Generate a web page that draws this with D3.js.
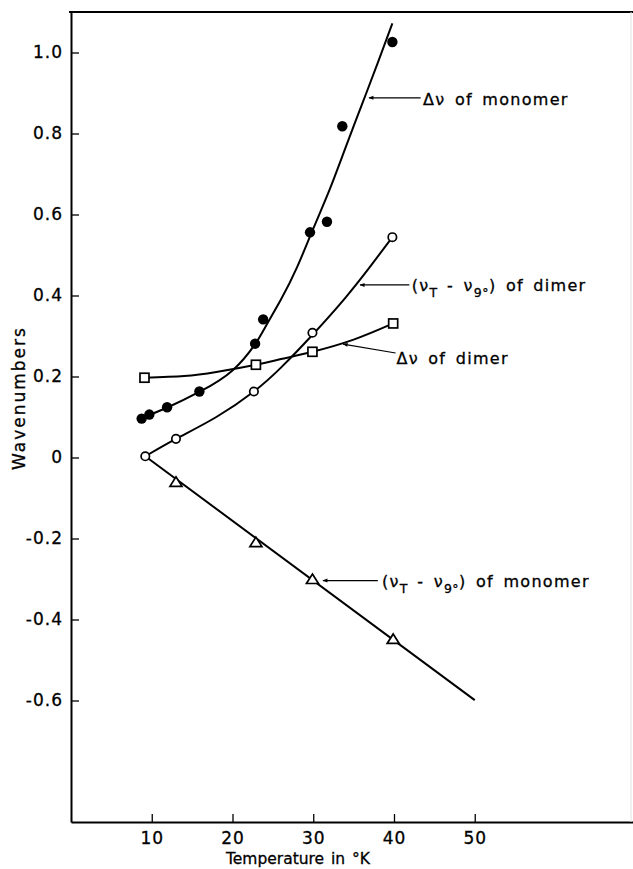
<!DOCTYPE html>
<html>
<head>
<meta charset="utf-8">
<script src="https://cdn.jsdelivr.net/npm/d3@7"></script>
<style>
    body { margin: 0; background: #fff; }
    svg { display: block; font-family: "DejaVu Sans", sans-serif; }
</style>
</head>
<body>
<svg id="canvas" width="633" height="869"></svg>
<script>
// measured points: temperature in K, value in wavenumbers
const monoShiftTemp = [8.75, 9.7, 11.9, 15.9, 22.8, 23.8, 29.6, 31.7, 33.6, 39.8];
const monoShift = [0.096, 0.106, 0.124, 0.163, 0.281, 0.341, 0.556, 0.582, 0.818, 1.026];
const dimerPosTemp = [9.2, 13, 22.65, 29.9, 39.8];
const dimerPos = [0.003, 0.046, 0.163, 0.308, 0.544];
const dimerShiftTemp = [9.1, 22.9, 29.9, 39.9];
const dimerShift = [0.197, 0.229, 0.261, 0.331];
const monoPosTemp = [13, 22.9, 29.9, 39.9];
const monoPos = [-0.06, -0.209, -0.3, -0.448];

// the hand drawn curves through those points
const monoShiftFitTemp = [8.3, 12, 16, 20, 22.8, 24, 26, 28, 30, 32, 34, 36, 38, 39.8];
const monoShiftFit = [0.094, 0.124, 0.163, 0.215, 0.28, 0.32, 0.39, 0.47, 0.565, 0.66, 0.765, 0.87, 0.975, 1.072];
const dimerPosFitTemp = [9.2, 13, 18, 22.65, 26, 30, 34, 37, 39.8];
const dimerPosFit = [0.003, 0.046, 0.1, 0.163, 0.222, 0.305, 0.395, 0.47, 0.544];
const dimerShiftFitTemp = [9.1, 14, 18, 22.9, 26, 29.9, 35, 39.9];
const dimerShiftFit = [0.197, 0.201, 0.211, 0.229, 0.243, 0.261, 0.291, 0.331];
const monoPosFitTemp = [9.2, 50];
const monoPosFit = [0.003, -0.599];

const xTicks = [10, 20, 30, 40, 50];
const xTickLabels = ["10", "20", "30", "40", "50"];
const yTicks = [1.0, 0.8, 0.6, 0.4, 0.2, 0, -0.2, -0.4, -0.6];
const yTickLabels = ["1.0", "0.8", "0.6", "0.4", "0.2", "0", "-0.2", "-0.4", "-0.6"];

const canvas = d3.select("#canvas");

const x = d3.scaleLinear().domain([0, 69.6]).range([71, 633]);
const y = d3.scaleLinear().domain([-0.9, 1.1]).range([822, 12]);

const zip = (xs, ys) => xs.map((t, i) => [t, ys[i]]);

// arrow head
canvas
    .append("defs")
    .append("marker")
    .attr("id", "head")
    .attr("viewBox", "0 0 10 10")
    .attr("refX", 9)
    .attr("refY", 5)
    .attr("markerWidth", 7)
    .attr("markerHeight", 5)
    .attr("markerUnits", "userSpaceOnUse")
    .attr("orient", "auto")
    .append("path")
    .attr("d", "M0,1 L10,5 L0,9 Z")
    .attr("fill", "#000");

// axes
const yAxis = d3
    .axisLeft(y)
    .tickValues(yTicks)
    .tickFormat((d, i) => yTickLabels[i])
    .tickSizeInner(-8)
    .tickSizeOuter(0)
    .tickPadding(8);

const xAxis = d3
    .axisBottom(x)
    .tickValues(xTicks)
    .tickFormat((d, i) => xTickLabels[i])
    .tickSizeInner(-8)
    .tickSizeOuter(0)
    .tickPadding(10);

const styleAxis = (g) => {
    g.select(".domain").attr("stroke", "#000").attr("stroke-width", 2);
    g.selectAll(".tick line").attr("stroke", "#000").attr("stroke-width", 1.3);
    g.selectAll(".tick text")
        .attr("fill", "#000")
        .attr("stroke", "#000")
        .attr("stroke-width", 0.3)
        .style("font-family", "DejaVu Sans, sans-serif")
        .style("font-size", "17px")
        .style("letter-spacing", "1px");
};

canvas
    .append("g")
    .attr("transform", `translate(${x(0)},0)`)
    .call(yAxis)
    .call(styleAxis);

canvas
    .append("g")
    .attr("transform", `translate(0,${y(-0.9)})`)
    .call(xAxis)
    .call(styleAxis);

// top edge of the frame and the faint right edge
canvas
    .append("line")
    .attr("x1", x(0) - 2)
    .attr("x2", x(69.6))
    .attr("y1", y(1.1))
    .attr("y2", y(1.1))
    .attr("stroke", "#000")
    .attr("stroke-width", 2);

canvas
    .append("line")
    .attr("x1", 631)
    .attr("x2", 631)
    .attr("y1", y(1.1))
    .attr("y2", y(-0.9))
    .attr("stroke", "#e2e2e2")
    .attr("stroke-width", 1);

// axis titles
canvas
    .append("text")
    .attr("x", 298)
    .attr("y", 864)
    .attr("text-anchor", "middle")
    .attr("stroke", "#000")
    .attr("stroke-width", 0.3)
    .style("font-size", "15.5px")
    .style("word-spacing", "2px")
    .text("Temperature in °K");

canvas
    .append("text")
    .attr("transform", "translate(25,398) rotate(-90)")
    .attr("text-anchor", "middle")
    .attr("stroke", "#000")
    .attr("stroke-width", 0.3)
    .style("font-size", "17px")
    .style("letter-spacing", "2px")
    .text("Wavenumbers");

// curves
const line = d3
    .line()
    .x((d) => x(d[0]))
    .y((d) => y(d[1]))
    .curve(d3.curveNatural);

const fits = [
    zip(monoShiftFitTemp, monoShiftFit),
    zip(dimerPosFitTemp, dimerPosFit),
    zip(dimerShiftFitTemp, dimerShiftFit),
    zip(monoPosFitTemp, monoPosFit),
];

canvas
    .selectAll("path.fit")
    .data(fits)
    .enter()
    .append("path")
    .attr("class", "fit")
    .attr("d", line)
    .attr("fill", "none")
    .attr("stroke", "#000")
    .attr("stroke-width", 2);

// points
canvas
    .selectAll("circle.mono")
    .data(zip(monoShiftTemp, monoShift))
    .enter()
    .append("circle")
    .attr("class", "mono")
    .attr("cx", (d) => x(d[0]))
    .attr("cy", (d) => y(d[1]))
    .attr("r", 5.2)
    .attr("fill", "#000");

canvas
    .selectAll("circle.dimer")
    .data(zip(dimerPosTemp, dimerPos))
    .enter()
    .append("circle")
    .attr("class", "dimer")
    .attr("cx", (d) => x(d[0]))
    .attr("cy", (d) => y(d[1]))
    .attr("r", 4.2)
    .attr("fill", "#fff")
    .attr("stroke", "#000")
    .attr("stroke-width", 1.7);

canvas
    .selectAll("rect.dimer")
    .data(zip(dimerShiftTemp, dimerShift))
    .enter()
    .append("rect")
    .attr("class", "dimer")
    .attr("x", (d) => x(d[0]) - 4.5)
    .attr("y", (d) => y(d[1]) - 4.5)
    .attr("width", 9)
    .attr("height", 9)
    .attr("fill", "#fff")
    .attr("stroke", "#000")
    .attr("stroke-width", 1.7);

canvas
    .selectAll("path.tri")
    .data(zip(monoPosTemp, monoPos))
    .enter()
    .append("path")
    .attr("class", "tri")
    .attr("transform", (d) => `translate(${x(d[0])},${y(d[1])})`)
    .attr("d", "M0,-5 L6,4.5 L-6,4.5 Z")
    .attr("fill", "#fff")
    .attr("stroke", "#000")
    .attr("stroke-width", 1.7);

// labels with arrows pointing to the curves
const annotate = (parts, tx, ty, from, to) => {
    canvas
        .append("line")
        .attr("x1", x(from[0]))
        .attr("y1", y(from[1]))
        .attr("x2", x(to[0]))
        .attr("y2", y(to[1]))
        .attr("stroke", "#000")
        .attr("stroke-width", 1.2)
        .attr("marker-end", "url(#head)");

    const text = canvas
        .append("text")
        .attr("x", x(tx))
        .attr("y", y(ty))
        .attr("stroke", "#000")
        .attr("stroke-width", 0.3)
        .style("font-size", "16px")
        .style("letter-spacing", "1.3px")
        .style("word-spacing", "3px")
        .attr("xml:space", "preserve");

    let sub = false;
    parts.forEach((p) => {
        const isSub = p.startsWith("_");
        const s = text.append("tspan").text(isSub ? p.slice(1) : p);
        if (isSub) s.style("font-size", "12.5px").style("letter-spacing", "0.5px");
        if (isSub && !sub) s.attr("dy", 6);
        if (!isSub && sub) s.attr("dy", -6);
        sub = isSub;
    });
};

annotate(["Δν of monomer"], 43.6, 0.87, [43.3, 0.888], [36.9, 0.888]);
annotate(["(ν", "_T", " - ν", "_9°", ") of dimer"], 42.2, 0.41, [41.9, 0.426], [35.8, 0.426]);
annotate(["Δν of dimer"], 40.3, 0.231, [40.2, 0.258], [33.7, 0.28]);
annotate(["(ν", "_T", " - ν", "_9°", ") of monomer"], 38.5, -0.32, [38.0, -0.304], [31.2, -0.304]);
</script>
</body>
</html>
